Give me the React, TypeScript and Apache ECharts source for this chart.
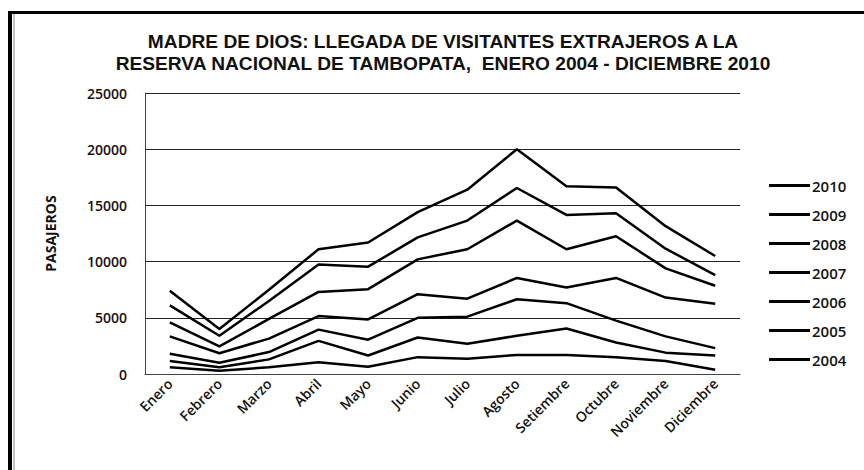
import React, { useEffect, useRef } from "react";
import * as echarts from "echarts";

const months = ["Enero", "Febrero", "Marzo", "Abril", "Mayo", "Junio", "Julio", "Agosto", "Setiembre", "Octubre", "Noviembre", "Diciembre"];
const years = ["2010", "2009", "2008", "2007", "2006", "2005", "2004"];
const v2010 = [7400, 4000, 7500, 11100, 11700, 14400, 16400, 20000, 16700, 16600, 13150, 10500];
const v2009 = [6100, 3400, 6500, 9750, 9550, 12150, 13650, 16550, 14150, 14300, 11150, 8800];
const v2008 = [4600, 2450, 4900, 7300, 7550, 10200, 11100, 13650, 11100, 12250, 9400, 7850];
const v2007 = [3350, 1850, 3150, 5150, 4850, 7100, 6700, 8550, 7700, 8550, 6800, 6250];
const v2006 = [1800, 1000, 1950, 3950, 3050, 5000, 5100, 6650, 6300, 4750, 3350, 2300];
const v2005 = [1150, 600, 1300, 2950, 1650, 3250, 2700, 3400, 4050, 2800, 1900, 1650];
const v2004 = [600, 300, 600, 1050, 650, 1500, 1350, 1700, 1700, 1500, 1150, 380];
const seriesValues = [v2010, v2009, v2008, v2007, v2006, v2005, v2004];
const yTicks = { min: 0, max: 25000, interval: 5000 };
const titleLines = [
  "MADRE DE DIOS: LLEGADA DE VISITANTES EXTRAJEROS A LA",
  "RESERVA NACIONAL DE TAMBOPATA,  ENERO 2004 - DICIEMBRE 2010",
];

const FONT = "'Open Sans', 'Liberation Sans', sans-serif";
const TITLE_FONT = "'Liberation Sans', Arial, sans-serif";

export default function App() {
  const ref = useRef<HTMLDivElement>(null);
  useEffect(() => {
    if (!ref.current) return;
    const chart = echarts.init(ref.current, undefined, { renderer: "svg" });
    chart.setOption({
      animation: false,
      backgroundColor: "#ffffff",
      grid: { left: 145, right: 124, top: 93, bottom: 96 },
      legend: {
        orient: "vertical",
        left: 764,
        top: 173,
        itemWidth: 41,
        itemHeight: 3,
        itemGap: 14,
        icon: "rect",
        data: years,
        textStyle: { fontFamily: FONT, fontSize: 15, fontWeight: 600, color: "#111", padding: [0, 0, 0, -3] },
      },
      xAxis: {
        type: "category",
        data: months,
        boundaryGap: true,
        axisLine: { lineStyle: { color: "#444", width: 1 } },
        axisTick: { show: false },
        axisLabel: { rotate: 45, fontFamily: FONT, fontSize: 14, fontWeight: 600, color: "#111", margin: 7 },
      },
      yAxis: {
        type: "value",
        min: yTicks.min,
        max: yTicks.max,
        interval: yTicks.interval,
        name: "PASAJEROS",
        nameLocation: "middle",
        nameGap: 88,
        nameTextStyle: { fontFamily: FONT, fontWeight: "bold", fontSize: 14, color: "#111" },
        axisLine: { show: true, lineStyle: { color: "#444", width: 1 } },
        axisTick: { show: false },
        axisLabel: { fontFamily: FONT, fontSize: 14, fontWeight: 600, color: "#111", margin: 18, formatter: (v: number) => String(v) },
        splitLine: { lineStyle: { color: "#222", width: 1 } },
      },
      series: years.map((y, i) => ({
        name: y,
        type: "line",
        data: seriesValues[i],
        showSymbol: false,
        symbol: "none",
        lineStyle: { color: "#000", width: 2.5 },
        itemStyle: { color: "#000" },
      })),
      graphic: [
        { type: "rect", shape: { x: 8, y: 11, width: 4, height: 470 }, style: { fill: "#000" } },
        { type: "rect", shape: { x: 8, y: 11, width: 856, height: 3 }, style: { fill: "#000" } },
        { type: "line", shape: { x1: 14, y1: 14, x2: 14, y2: 470 }, style: { stroke: "#888", lineWidth: 1 } },
        ...titleLines.map((t, i) => ({
          type: "text",
          x: 443,
          y: 42 + i * 21.5,
          scaleX: 1.095,
          style: {
            text: t,
            fontFamily: TITLE_FONT,
            fontWeight: "bold",
            fontSize: 17.5,
            fill: "#111",
            align: "center",
            verticalAlign: "middle",
          },
        })),
      ],
    });
    return () => chart.dispose();
  }, []);
  return <div ref={ref} style={{ width: 864, height: 470, position: "absolute", left: 0, top: 0 }} />;
}
